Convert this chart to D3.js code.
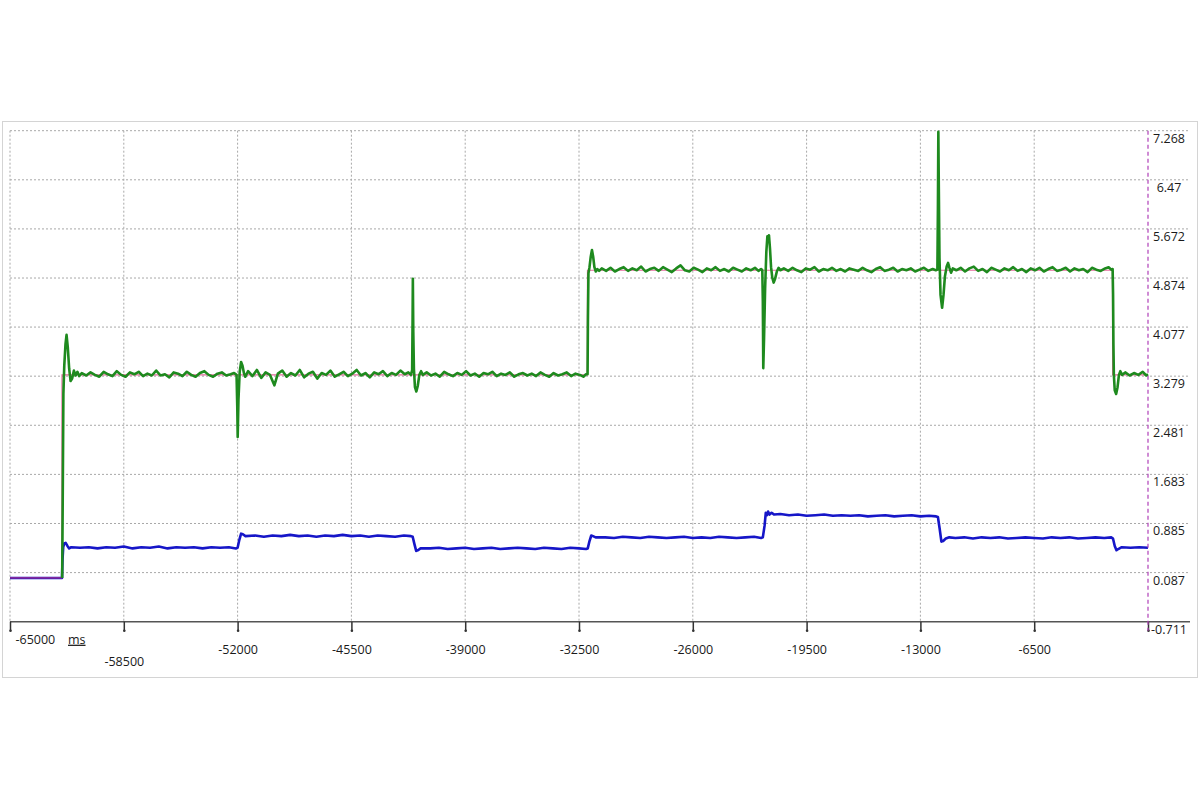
<!DOCTYPE html>
<html>
<head>
<meta charset="utf-8">
<script src="https://cdn.jsdelivr.net/npm/d3@7"></script>
<style>
  html, body { margin: 0; padding: 0; background: #ffffff; }
  svg { display: block; }
  text { font-family: "Open Sans", "Noto Sans", sans-serif; fill: #1a1a1a; }
</style>
</head>
<body>
<svg id="chart" width="1200" height="800"></svg>
<script>
// ---------------- DATA ----------------
const xTickValues = [-65000, -58500, -52000, -45500, -39000, -32500, -26000, -19500, -13000, -6500, 0];
const xTickLabels = ["-65000", "-58500", "-52000", "-45500", "-39000", "-32500", "-26000", "-19500", "-13000", "-6500", ""];
const yTickValues = [-0.711, 0.087, 0.885, 1.683, 2.481, 3.279, 4.077, 4.874, 5.672, 6.47, 7.268];
const yTickLabels = ["-0.711", "0.087", "0.885", "1.683", "2.481", "3.279", "4.077", "4.874", "5.672", "6.47", "7.268"];
const xUnit = "ms";

// setpoint (pink)
const setpoint = [[-65000,0],[-62040,0],[-62030,3.3],[-32030,3.3],[-32015,5.0],[-2030,5.0],[-2020,3.3],[0,3.3]];

// measured (green)
const measured = [
[-62020,0],[-61990,1.2],[-61950,3.0],[-61900,3.45],[-61830,3.8],[-61770,3.95],[-61700,3.75],[-61620,3.4],[-61540,3.2],[-61450,3.24],[-61350,3.37],[-61250,3.29],[-61150,3.35],[-61050,3.28],
[-60900,3.33],[-60650,3.29],[-60400,3.34],[-60150,3.30],[-59900,3.27],[-59650,3.35],[-59400,3.31],[-59150,3.28],[-58900,3.36],[-58650,3.30],[-58400,3.27],[-58150,3.34],[-57900,3.31],[-57650,3.35],[-57400,3.28],[-57150,3.32],[-56900,3.29],[-56650,3.37],[-56400,3.29],[-56150,3.31],[-55900,3.26],[-55650,3.34],[-55400,3.32],[-55150,3.28],[-54900,3.35],[-54650,3.30],[-54400,3.27],[-54150,3.33],[-53900,3.36],[-53650,3.30],[-53400,3.27],[-53150,3.32],[-52900,3.34],[-52650,3.29],[-52400,3.31],[-52200,3.33],
[-52060,3.3],[-52020,2.8],[-51995,2.29],[-51950,2.9],[-51880,3.35],[-51800,3.51],[-51720,3.45],[-51640,3.33],[-51560,3.27],
[-51400,3.36],[-51150,3.28],[-50900,3.38],[-50650,3.25],[-50400,3.34],[-50150,3.30],[-49900,3.13],[-49700,3.32],[-49450,3.37],[-49200,3.27],[-48950,3.33],[-48700,3.29],[-48450,3.38],[-48200,3.26],[-47950,3.32],[-47700,3.35],[-47450,3.24],[-47200,3.33],[-46950,3.30],[-46700,3.37],[-46450,3.27],[-46200,3.31],[-45950,3.35],[-45700,3.28],[-45450,3.32],[-45200,3.38],[-44950,3.29],[-44700,3.33],[-44450,3.26],[-44200,3.34],[-43950,3.31],[-43700,3.36],[-43450,3.28],[-43200,3.33],[-42950,3.30],[-42700,3.37],[-42450,3.31],[-42250,3.34],[-42100,3.30],
[-42030,3.38],[-42005,4.2],[-41990,4.86],[-41965,4.0],[-41930,3.4],[-41870,3.1],[-41790,3.03],[-41710,3.12],[-41620,3.3],[-41520,3.36],[-41420,3.30],
[-41200,3.34],[-40950,3.29],[-40700,3.32],[-40450,3.27],[-40200,3.35],[-39950,3.31],[-39700,3.28],[-39450,3.33],[-39200,3.30],[-38950,3.36],[-38700,3.29],[-38450,3.32],[-38200,3.27],[-37950,3.33],[-37700,3.31],[-37450,3.35],[-37200,3.28],[-36950,3.32],[-36700,3.30],[-36450,3.34],[-36200,3.27],[-35950,3.31],[-35700,3.33],[-35450,3.29],[-35200,3.32],[-34950,3.28],[-34700,3.34],[-34450,3.30],[-34200,3.27],[-33950,3.33],[-33700,3.29],[-33450,3.31],[-33200,3.34],[-32950,3.28],[-32700,3.32],[-32450,3.30],[-32250,3.27],[-32100,3.31],
[-32010,3.31],[-31990,4.2],[-31960,4.95],[-31900,5.05],[-31830,5.22],[-31760,5.33],[-31690,5.22],[-31620,5.05],[-31540,4.98],[-31450,5.02],[-31350,4.99],
[-31200,5.03],[-30950,4.99],[-30700,5.04],[-30450,4.98],[-30200,5.02],[-29950,5.05],[-29700,4.99],[-29450,5.03],[-29200,5.00],[-28950,5.06],[-28700,4.98],[-28450,5.02],[-28200,5.04],[-27950,4.99],[-27700,5.05],[-27450,5.01],[-27200,4.97],[-26950,5.03],[-26700,5.08],[-26450,5.00],[-26200,4.98],[-25950,5.04],[-25700,5.01],[-25450,4.97],[-25200,5.03],[-24950,5.00],[-24700,5.05],[-24450,4.99],[-24200,5.02],[-23950,4.98],[-23700,5.04],[-23450,5.01],[-23200,4.98],[-22950,5.03],[-22700,5.00],[-22450,5.04],[-22250,4.99],[-22100,5.02],
[-22030,5.00],[-22000,4.5],[-21975,3.41],[-21930,3.9],[-21870,4.7],[-21800,5.3],[-21740,5.55],[-21690,5.5],[-21650,5.57],[-21590,5.35],[-21530,5.05],[-21460,4.88],[-21380,4.80],[-21300,4.86],[-21200,4.98],[-21100,5.04],[-21000,5.00],
[-20800,5.03],[-20550,4.99],[-20300,5.04],[-20050,5.00],[-19800,4.97],[-19550,5.03],[-19300,5.01],[-19050,5.05],[-18800,4.98],[-18550,5.02],[-18300,5.00],[-18050,5.04],[-17800,4.99],[-17550,5.02],[-17300,4.98],[-17050,5.03],[-16800,5.01],[-16550,4.99],[-16300,5.04],[-16050,5.00],[-15800,4.97],[-15550,5.02],[-15300,5.05],[-15050,4.99],[-14800,5.01],[-14550,5.04],[-14300,4.98],[-14050,5.02],[-13800,5.00],[-13550,5.03],[-13300,4.98],[-13050,5.01],[-12800,5.04],[-12550,4.99],[-12300,5.02],[-12120,5.00],
[-12030,5.01],[-12000,6.0],[-11975,7.25],[-11950,6.4],[-11910,5.2],[-11850,4.6],[-11760,4.39],[-11680,4.6],[-11600,4.9],[-11500,5.06],[-11420,5.12],[-11340,5.04],[-11250,4.96],[-11150,5.03],
[-10950,5.00],[-10700,5.04],[-10450,4.98],[-10200,5.03],[-9950,5.06],[-9700,4.99],[-9450,5.02],[-9200,4.97],[-8950,5.04],[-8700,5.01],[-8450,4.98],[-8200,5.03],[-7950,5.00],[-7700,5.05],[-7450,4.99],[-7200,5.02],[-6950,4.97],[-6700,5.03],[-6450,5.00],[-6200,5.04],[-5950,4.98],[-5700,5.02],[-5450,5.05],[-5200,4.99],[-4950,5.01],[-4700,5.04],[-4450,4.98],[-4200,5.03],[-3950,5.00],[-3700,5.02],[-3450,4.97],[-3200,5.04],[-2950,5.01],[-2700,4.99],[-2450,5.03],[-2250,5.05],[-2100,5.01],
[-2020,5.02],[-1995,4.6],[-1975,3.8],[-1950,3.3],[-1900,3.05],[-1820,2.99],[-1740,3.1],[-1660,3.3],[-1580,3.36],[-1480,3.30],
[-1300,3.34],[-1050,3.29],[-800,3.33],[-550,3.30],[-300,3.35],[-100,3.29],[0,3.31]
];

// second signal (blue)
const secondary = [
[-65000,0.0],[-62030,0.0],[-62000,0.3],[-61960,0.50],[-61900,0.56],[-61820,0.57],[-61720,0.52],[-61620,0.48],[-61500,0.50],
[-61000,0.49],[-60500,0.50],[-60000,0.48],[-59500,0.50],[-59000,0.49],[-58500,0.51],[-58000,0.48],[-57500,0.50],[-57000,0.49],[-56500,0.51],[-56000,0.48],[-55500,0.50],[-55000,0.49],[-54500,0.50],[-54000,0.48],[-53500,0.50],[-53000,0.49],[-52500,0.50],[-52100,0.48],
[-52000,0.49],[-51900,0.62],[-51800,0.72],[-51700,0.71],[-51550,0.68],
[-51000,0.69],[-50500,0.67],[-50000,0.69],[-49500,0.68],[-49000,0.70],[-48500,0.68],[-48000,0.69],[-47500,0.67],[-47000,0.69],[-46500,0.68],[-46000,0.70],[-45500,0.68],[-45000,0.69],[-44500,0.67],[-44000,0.69],[-43500,0.68],[-43000,0.67],[-42500,0.69],[-42100,0.68],
[-42000,0.67],[-41900,0.55],[-41800,0.44],[-41700,0.45],[-41550,0.48],
[-41000,0.48],[-40500,0.49],[-40000,0.47],[-39500,0.48],[-39000,0.49],[-38500,0.47],[-38000,0.48],[-37500,0.49],[-37000,0.47],[-36500,0.48],[-36000,0.49],[-35500,0.48],[-35000,0.47],[-34500,0.49],[-34000,0.48],[-33500,0.47],[-33000,0.49],[-32500,0.48],[-32100,0.47],
[-32000,0.48],[-31900,0.60],[-31800,0.69],[-31700,0.68],[-31550,0.66],
[-31000,0.66],[-30500,0.65],[-30000,0.67],[-29500,0.66],[-29000,0.65],[-28500,0.67],[-28000,0.66],[-27500,0.65],[-27000,0.66],[-26500,0.67],[-26000,0.65],[-25500,0.66],[-25000,0.65],[-24500,0.67],[-24000,0.66],[-23500,0.65],[-23000,0.66],[-22500,0.67],[-22100,0.65],
[-22000,0.66],[-21900,0.85],[-21830,1.06],[-21760,1.02],[-21700,1.08],[-21620,1.03],[-21500,1.06],[-21350,1.03],
[-21000,1.04],[-20500,1.02],[-20000,1.03],[-19500,1.01],[-19000,1.02],[-18500,1.03],[-18000,1.01],[-17500,1.02],[-17000,1.01],[-16500,1.02],[-16000,1.00],[-15500,1.01],[-15000,1.02],[-14500,1.00],[-14000,1.01],[-13500,1.02],[-13000,1.00],[-12500,1.01],[-12100,1.00],
[-12000,0.99],[-11900,0.80],[-11800,0.59],[-11700,0.60],[-11550,0.64],[-11350,0.66],
[-11000,0.65],[-10500,0.66],[-10000,0.64],[-9500,0.66],[-9000,0.65],[-8500,0.66],[-8000,0.64],[-7500,0.65],[-7000,0.66],[-6500,0.65],[-6000,0.64],[-5500,0.66],[-5000,0.65],[-4500,0.66],[-4000,0.64],[-3500,0.65],[-3000,0.66],[-2500,0.65],[-2100,0.66],
[-2000,0.64],[-1900,0.52],[-1800,0.45],[-1700,0.47],[-1500,0.50],
[-1000,0.49],[-500,0.50],[0,0.49]
];

// ---------------- LAYOUT ----------------
const svg = d3.select("#chart");
const plot = { left: 10, right: 1148, top: 130.7, bottom: 621.7 };
const frame = { left: 2.5, right: 1197.5, top: 121.5, bottom: 677.5 };
const gridRight = 1190;
const fontSize = 12.5;

const x = d3.scaleLinear().domain([-65000, 0]).range([plot.left, plot.right]);
const y = d3.scaleLinear().domain([-0.711, 7.268]).range([plot.bottom, plot.top]);

// frame
svg.append("rect")
  .attr("x", frame.left).attr("y", frame.top)
  .attr("width", frame.right - frame.left).attr("height", frame.bottom - frame.top)
  .attr("fill", "#ffffff").attr("stroke", "#d4d4d4").attr("stroke-width", 1);

// grid
const grid = svg.append("g");
grid.selectAll("line.v").data(xTickValues.slice(0, -1)).join("line")
  .attr("x1", d => x(d)).attr("x2", d => x(d))
  .attr("y1", y(7.268)).attr("y2", y(-0.711))
  .attr("stroke", "#a8a8a8").attr("stroke-width", 1).attr("stroke-dasharray", "2,2");
grid.selectAll("line.h").data(yTickValues.slice(1)).join("line")
  .attr("x1", plot.left).attr("x2", gridRight)
  .attr("y1", d => y(d)).attr("y2", d => y(d))
  .attr("stroke", "#a8a8a8").attr("stroke-width", 1).attr("stroke-dasharray", "2,2");

// lines
const line = d3.line().x(d => x(d[0])).y(d => y(d[1]));

svg.append("path").datum(secondary).attr("d", line)
  .attr("fill", "none").attr("stroke", "#1616c8").attr("stroke-width", 2.6).attr("stroke-linejoin", "round");
svg.append("path").datum(setpoint).attr("d", line)
  .attr("fill", "none").attr("stroke", "#d8387a").attr("stroke-width", 1.2).attr("stroke-opacity", 0.75);
svg.append("path").datum(measured).attr("d", line)
  .attr("fill", "none").attr("stroke", "#1e8a1e").attr("stroke-width", 2.6).attr("stroke-linejoin", "round");

// bottom axis
svg.append("line")
  .attr("x1", plot.left).attr("x2", gridRight)
  .attr("y1", y(-0.711)).attr("y2", y(-0.711))
  .attr("stroke", "#555").attr("stroke-width", 1.5);

const xAxis = d3.axisBottom(x).tickValues(xTickValues).tickSize(9)
  .tickFormat((d, i) => xTickLabels[i]);
const gx = svg.append("g").attr("transform", `translate(0,${y(-0.711)})`).call(xAxis);
gx.select(".domain").remove();
gx.selectAll(".tick line").attr("stroke", "#333").attr("stroke-width", 1.5);
gx.selectAll(".tick").append("circle").attr("cx", 0).attr("cy", 9).attr("r", 1.3).attr("fill", "#333");
gx.selectAll(".tick text")
  .attr("font-size", fontSize).attr("fill", "#1a1a1a")
  .attr("font-family", "'Open Sans', 'Noto Sans', sans-serif")
  .attr("dy", null)
  .attr("y", (d, i) => i === 0 ? 22 : (i === 1 ? 44 : 32))
  .attr("x", (d, i) => i === 0 ? 5 : 0)
  .attr("text-anchor", (d, i) => i === 0 ? "start" : "middle");

// unit label
svg.append("text")
  .attr("x", x(-65000) + 58).attr("y", y(-0.711) + 22)
  .attr("font-size", fontSize).attr("text-decoration", "underline")
  .text(xUnit);

// magenta cursor line at 0
svg.append("line")
  .attr("x1", x(0)).attr("x2", x(0))
  .attr("y1", plot.top).attr("y2", plot.bottom + 9)
  .attr("stroke", "#b040b8").attr("stroke-width", 1.2).attr("stroke-dasharray", "4,3");

// right y labels
svg.append("g").selectAll("text").data(yTickValues).join("text")
  .attr("x", 1169).attr("y", d => y(d) + 12)
  .attr("text-anchor", "middle").attr("font-size", fontSize)
  .text((d, i) => yTickLabels[i]);
</script>
</body>
</html>
